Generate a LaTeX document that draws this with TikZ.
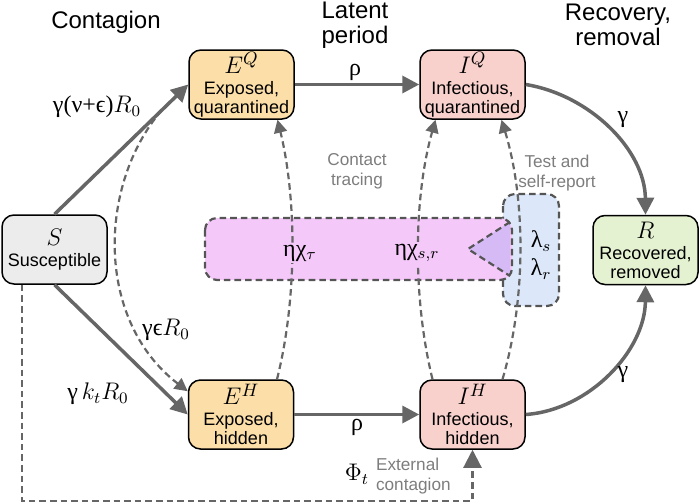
\documentclass[tikz,border=0pt]{standalone}
\usepackage{fontspec}
\setmainfont{Liberation Sans}
\newfontfamily\grk{Liberation Serif}
\usepackage{tikz}
\usetikzlibrary{arrows.meta,positioning,calc}

\definecolor{flowgray}{RGB}{102,102,102}
\definecolor{notegray}{RGB}{125,125,125}
\definecolor{edgegray}{RGB}{85,85,85}
\definecolor{expfill}{RGB}{251,222,168}
\definecolor{inffill}{RGB}{248,208,204}
\definecolor{susfill}{RGB}{236,236,236}
\definecolor{recfill}{RGB}{229,242,210}
\definecolor{tracefill}{RGB}{245,200,250}
\definecolor{reportfill}{RGB}{220,232,250}
\definecolor{mixfill}{RGB}{214,186,246}

\newcommand{\gk}[1]{{\grk #1}}
\newcommand{\compsym}[1]{{\fontsize{12.5}{12.5}\selectfont$#1$}}

\tikzset{
  compartment/.style={draw=black, line width=0.75pt, rounded corners=6pt,
    minimum width=52.5pt, minimum height=34.5pt, inner sep=1pt, align=center,
    font=\fontsize{9}{9.5}\selectfont},
  mainflow/.style={draw=flowgray, line width=1.75pt, -{Triangle[length=8.5pt,width=8.5pt]}},
  dashflow/.style={draw=flowgray, line width=1.1pt, dash pattern=on 3.3pt off 2pt,
    -{Triangle[length=6.5pt,width=6.5pt]}},
  dashline/.style={draw=edgegray, line width=1.1pt, dash pattern=on 3.3pt off 2pt},
  header/.style={font=\fontsize{12}{12.5}\selectfont, align=center},
  greynote/.style={text=notegray, font=\fontsize{8.6}{10}\selectfont, align=center},
  ratelabel/.style={font=\fontsize{12}{12}\selectfont, inner sep=1pt},
}

\begin{document}
\begin{tikzpicture}[x=0.5pt,y=-0.5pt]
\useasboundingbox (0,0) rectangle (700,503);

% headers
\node[header] (hcont) at (106,22) {Contagion};
\node[header] (hlat) at (355,25) {Latent\\period};
\node[header] (hrec) at (618,25) {Recovery,\\removal};

% compartments
\node[compartment, fill=susfill] (S) at (54.5,249.5) {\compsym{S}\\[1pt]Susceptible};
\node[compartment, fill=expfill] (EQ) at (241.5,84.5) {\compsym{E^Q}\\[1pt]Exposed,\\quarantined};
\node[compartment, fill=expfill] (EH) at (241,414.5) {\compsym{E^H}\\[1pt]Exposed,\\hidden};
\node[compartment, fill=inffill] (IQ) at (472.5,84.5) {\compsym{I^Q}\\[1pt]Infectious,\\quarantined};
\node[compartment, fill=inffill] (IH) at (472.5,414.5) {\compsym{I^H}\\[1pt]Infectious,\\hidden};
\node[compartment, fill=recfill] (R) at (645.5,250) {\compsym{R}\\[1pt]Recovered,\\removed};

% tracing and reporting
\filldraw[dashline, fill=reportfill, rounded corners=6pt] (503,194) rectangle (559,306);
\fill[tracefill, rounded corners=6pt] (205,218) rectangle (512,280);
\fill[mixfill] (468,249) -- (510,222) -- (510,276) -- cycle;
\draw[dashline] (510,222) -- (468,249) -- (510,276);
\draw[dashline, rounded corners=6pt] (205,218) rectangle (512,280);

% flows
\draw[mainflow] (S.north) -- (EQ.west);
\draw[mainflow] (S.south) -- (EH.west);
\draw[mainflow] (EQ.east) -- (IQ.west);
\draw[mainflow] (EH.east) -- (IH.west);
\draw[mainflow] (IQ.east) .. controls (590,95) and (645,150) .. (R.north);
\draw[mainflow] (IH.east) .. controls (590,410) and (645,350) .. (R.south);

\coordinate (split) at ($(S.north)!0.8!(EQ.west)$);
\draw[dashflow] (split) .. controls (98,185) and (95,320) .. ($(EH.north west)+(0,12)$);
\draw[dashflow] ($(EH.north)+(36,0)$) .. controls (297,300) and (297,200) .. ($(EQ.south)+(36,0)$);
\draw[dashflow] ($(IH.north)+(-40,0)$) .. controls (413,300) and (413,200) .. ($(IQ.south)+(-37,0)$);
\draw[dashflow] ($(IH.north)+(30,0)$) .. controls (526,300) and (526,200) .. ($(IQ.south)+(29,0)$);
\draw[dashflow, -{Triangle[length=9pt,width=9pt]}] ($(S.south west)+(21,0)$) -- ++(0,216) -| (IH.south);

% rates
\node[ratelabel] (rSEQ) at (97,107) {\gk{γ(ν+ϵ)}$R_0$};
\node[ratelabel] (rSEH) at (98,394) {\gk{γ}\,$k_tR_0$};
\node[ratelabel] (rEps) at (166,330) {\gk{γϵ}$R_0$};
\node[ratelabel] (rhoQ) at (355,72) {\gk{ρ}};
\node[ratelabel] (rhoH) at (357,427) {\gk{ρ}};
\node[ratelabel] (gamQ) at (623,120) {\gk{γ}};
\node[ratelabel] (gamH) at (623,375) {\gk{γ}};
\node[ratelabel] (phi) at (357,474) {$\Phi_t$};
\node[ratelabel, fill=tracefill] (chiT) at (300,253) {\gk{ηχ}$_\tau$};
\node[ratelabel, fill=tracefill] (chiSR) at (417,253) {\gk{ηχ}$_{s,r}$};
\node[ratelabel] (lamS) at (541,241) {\gk{λ}$_s$};
\node[ratelabel] (lamR) at (541,269) {\gk{λ}$_r$};

% notes
\node[greynote] (ntrace) at (357,171) {Contact\\tracing};
\node[greynote] (nreport) at (557,173) {Test and\\self-report};
\node[greynote, align=left, anchor=west] (nextern) at (369,476) {External\\contagion};
\end{tikzpicture}
\end{document}
